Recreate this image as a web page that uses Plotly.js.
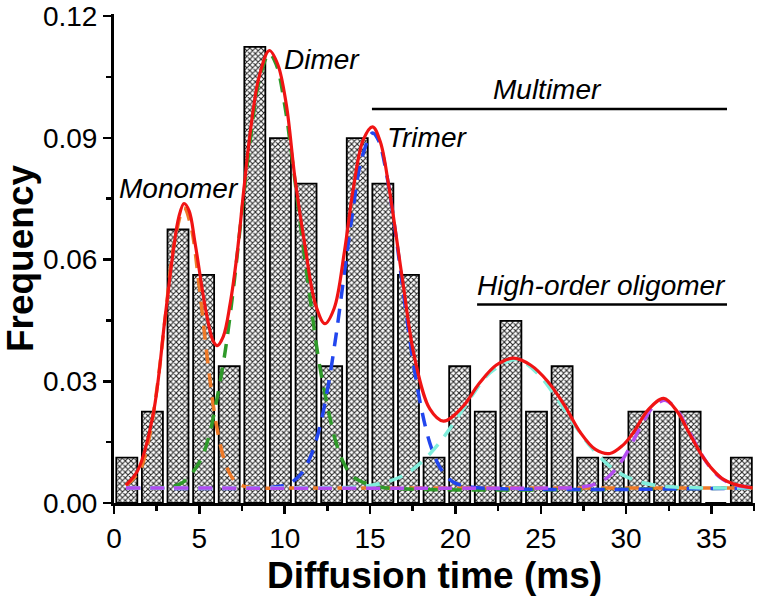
<!DOCTYPE html>
<html>
<head>
<meta charset="utf-8">
<script src="https://cdn.plot.ly/plotly-3.0.1.min.js"></script>
<style>html,body{margin:0;padding:0;background:#fff}#chart{width:759px;height:597px}</style>
</head>
<body>
<div id="chart"></div>
<script>
// Histogram bins (ms) and frequency
const binCenters = [0.75, 2.25, 3.75, 5.25, 6.75, 8.25, 9.75, 11.25, 12.75, 14.25, 15.75, 17.25, 18.75, 20.25, 21.75, 23.25, 24.75, 26.25, 27.75, 29.25, 30.75, 32.25, 33.75, 35.25, 36.75];
const frequency = [0.0112, 0.0225, 0.0674, 0.0562, 0.0337, 0.1124, 0.0899, 0.0787, 0.0337, 0.0899, 0.0787, 0.0562, 0.0112, 0.0337, 0.0225, 0.0449, 0.0225, 0.0337, 0.0112, 0.0112, 0.0225, 0.0225, 0.0225, 0, 0.0112];

// Total fit (red)
const fitX = [0.7, 1.4, 2.3, 3.0, 3.5, 3.8, 4.1, 4.4, 4.75, 5.4, 5.8, 6.05, 6.4, 6.8, 7.2, 7.6, 8.0, 8.5, 9.1, 9.6, 10.1, 10.6, 11.2, 11.8, 12.35, 12.9, 13.5, 14.0, 14.6, 15.15, 15.6, 16.1, 16.9, 17.6, 18.5, 19.3, 20.4, 21.4, 22.4, 23.4, 24.4, 25.4, 26.4, 27.3, 28.2, 29.05, 29.8, 30.4, 31.3, 32.2, 33.0, 33.7, 34.4, 35.1, 35.7, 36.3, 37.4];
const fitY = [0.0044, 0.0081, 0.022, 0.046, 0.063, 0.0705, 0.0738, 0.072, 0.064, 0.047, 0.040, 0.0388, 0.041, 0.049, 0.061, 0.077, 0.092, 0.105, 0.1115, 0.108, 0.098, 0.080, 0.063, 0.049, 0.0442, 0.048, 0.062, 0.077, 0.0895, 0.0927, 0.089, 0.078, 0.055, 0.036, 0.0232, 0.0202, 0.0236, 0.0295, 0.0340, 0.0357, 0.0340, 0.0300, 0.0240, 0.0175, 0.0132, 0.0122, 0.0142, 0.0172, 0.0230, 0.0258, 0.0225, 0.0172, 0.0120, 0.0081, 0.0058, 0.0047, 0.0037];

// Component peaks (dashed)
const monoX = [0.7, 1.5, 2.0, 2.5, 3.0, 3.5, 4.1, 4.5, 5.0, 5.5, 6.0, 6.5, 7.0, 7.5, 8.5, 10.0, 37.4];
const monoY = [0.0043, 0.0079, 0.0149, 0.0277, 0.0456, 0.0632, 0.0727, 0.0683, 0.0531, 0.0344, 0.0192, 0.0101, 0.0058, 0.0043, 0.0037, 0.0037, 0.0037];

const dimerX = [0.7, 3.0, 4.0, 5.0, 5.5, 6.0, 6.5, 7.0, 7.5, 8.0, 8.5, 9.1, 9.5, 10.0, 10.5, 11.0, 11.5, 12.0, 12.5, 13.0, 13.5, 14.0, 15.0, 16.0, 37.4];
const dimerY = [0.0037, 0.0039, 0.005, 0.010, 0.0155, 0.025, 0.037, 0.053, 0.072, 0.090, 0.104, 0.1107, 0.1081, 0.0981, 0.0827, 0.066, 0.050, 0.035, 0.024, 0.015, 0.0095, 0.0065, 0.0045, 0.0037, 0.0037];

const trimerX = [0.7, 9.0, 10.0, 10.5, 11.0, 11.5, 12.0, 12.5, 13.0, 13.5, 14.0, 14.5, 15.15, 15.5, 16.0, 16.5, 17.0, 17.5, 18.0, 18.5, 19.0, 19.5, 20.0, 21.0, 37.4];
const trimerY = [0.0037, 0.0038, 0.0044, 0.0054, 0.0074, 0.0113, 0.0178, 0.0278, 0.0411, 0.0568, 0.0723, 0.0847, 0.0912, 0.0893, 0.0803, 0.0663, 0.0504, 0.0354, 0.0234, 0.0148, 0.0095, 0.0064, 0.0049, 0.0039, 0.0037];

const highX = [0.7, 13, 14, 15, 16, 17, 18, 19, 20, 21, 22, 23.4, 24, 25, 26, 27, 28, 29, 30, 31, 32, 33, 35, 37.4];
const highY = [0.0037, 0.0038, 0.0039, 0.0043, 0.0052, 0.0069, 0.0100, 0.0145, 0.0203, 0.0266, 0.0320, 0.0353, 0.0347, 0.0311, 0.0254, 0.0191, 0.0135, 0.0092, 0.0065, 0.005, 0.0042, 0.0039, 0.0037, 0.0037];

const peak5X = [0.7, 26, 27, 27.5, 28, 28.5, 29, 29.5, 30, 30.5, 31, 31.5, 32.2, 32.5, 33, 33.5, 34, 34.5, 35, 35.5, 36, 36.5, 37.4];
const peak5Y = [0.0037, 0.0037, 0.0038, 0.004, 0.0044, 0.0052, 0.0066, 0.0089, 0.0121, 0.016, 0.020, 0.0233, 0.0253, 0.0249, 0.0228, 0.0192, 0.0152, 0.0114, 0.0084, 0.0063, 0.005, 0.0043, 0.0038];

const xTickVals = [0, 5, 10, 15, 20, 25, 30, 35];
const yTickVals = [0, 0.03, 0.06, 0.09, 0.12];

const FONT = 'Liberation Sans, Arial, sans-serif';
const dashPat = '14px,10px';

function comp(x, y, color) {
  return {x: x, y: y, type: 'scatter', mode: 'lines', hoverinfo: 'skip',
    line: {color: color, width: 3.5, dash: dashPat, shape: 'spline', smoothing: 1}, showlegend: false};
}

const traces = [
  {x: binCenters, y: frequency, type: 'bar', showlegend: false,
   marker: {color: 'white', line: {color: '#000', width: 1.8},
            pattern: {shape: 'x', size: 4, solidity: 0.45, fgcolor: '#222', bgcolor: '#fff', fillmode: 'replace'}}},
  comp(monoX, monoY, '#ee7a28'),
  comp(dimerX, dimerY, '#2f9a2a'),
  comp(trimerX, trimerY, '#2246ee'),
  comp(highX, highY, '#80eedc'),
  comp(peak5X, peak5Y, '#b44cf0'),
  {x: fitX, y: fitY, type: 'scatter', mode: 'lines', showlegend: false,
   line: {color: '#f01414', width: 3.2, shape: 'spline', smoothing: 1}}
];

const annFont = {family: FONT, size: 28, color: '#000'};
const layout = {
  width: 759, height: 597,
  margin: {l: 114, r: 4, t: 14, b: 94},
  paper_bgcolor: '#fff', plot_bgcolor: '#fff',
  bargap: 0.18,
  font: {family: FONT, color: '#000'},
  xaxis: {
    range: [0, 37.55], showgrid: false, zeroline: false,
    showline: true, linecolor: '#000', linewidth: 3,
    ticks: 'outside', ticklen: 8, tickwidth: 2.5, tickcolor: '#000',
    tickvals: xTickVals, ticktext: xTickVals.map(String),
    tickfont: {family: FONT, size: 28, color: '#000'},
    minor: {tickvals: [2.5, 7.5, 12.5, 17.5, 22.5, 27.5, 32.5, 37.5], ticks: 'outside', ticklen: 5, tickwidth: 2.5, tickcolor: '#000'},
    title: {text: '<b>Diffusion time (ms)</b>', font: {family: FONT, size: 37, color: '#000'}, standoff: 10}
  },
  yaxis: {
    range: [0, 0.1205], showgrid: false, zeroline: false,
    showline: true, linecolor: '#000', linewidth: 3,
    ticks: 'outside', ticklen: 8, tickwidth: 2.5, tickcolor: '#000',
    tickvals: yTickVals, ticktext: yTickVals.map(v => v.toFixed(2)),
    tickfont: {family: FONT, size: 28, color: '#000'},
    minor: {tickvals: [0.015, 0.045, 0.075, 0.105], ticks: 'outside', ticklen: 5, tickwidth: 2.5, tickcolor: '#000'},
    title: {text: '<b>Frequency</b>', font: {family: FONT, size: 37, color: '#000'}, standoff: 2}
  },
  annotations: [
    {x: 3.81, y: 0.0775, xref: 'x', yref: 'y', text: '<i>Monomer</i>', showarrow: false, font: annFont},
    {x: 12.19, y: 0.1092, xref: 'x', yref: 'y', text: '<i>Dimer</i>', showarrow: false, font: annFont},
    {x: 18.34, y: 0.0900, xref: 'x', yref: 'y', text: '<i>Trimer</i>', showarrow: false, font: annFont},
    {x: 25.42, y: 0.1018, xref: 'x', yref: 'y', text: '<i>Multimer</i>', showarrow: false, font: annFont},
    {x: 28.53, y: 0.0536, xref: 'x', yref: 'y', text: '<i>High-order oligomer</i>', showarrow: false, font: annFont}
  ],
  shapes: [
    {type: 'line', xref: 'x', yref: 'y', x0: 15.11, x1: 35.91, y0: 0.0971, y1: 0.0971, line: {color: '#000', width: 2.5}},
    {type: 'line', xref: 'x', yref: 'y', x0: 21.27, x1: 35.91, y0: 0.0489, y1: 0.0489, line: {color: '#000', width: 2.5}}
  ]
};

Plotly.newPlot('chart', traces, layout, {displayModeBar: false, staticPlot: true});
</script>
</body>
</html>
